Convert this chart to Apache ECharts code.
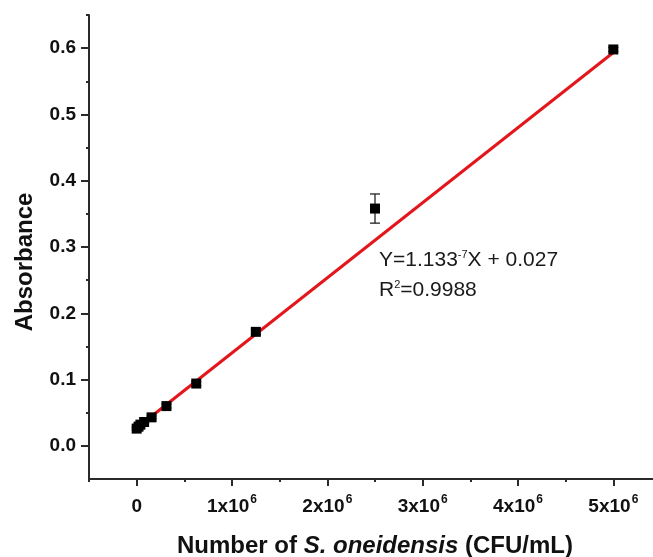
<!DOCTYPE html>
<html>
<head>
<meta charset="utf-8">
<script src="https://cdn.jsdelivr.net/npm/echarts@6/dist/echarts.min.js"></script>
<style>
  html, body { margin: 0; padding: 0; background: #fff; }
  #chart { width: 653px; height: 557px; }
</style>
</head>
<body>
<div id="chart"></div>
<script>
// Cell count (CFU/mL) of the two-fold dilution series
const cellCounts = [0, 19531, 39063, 78125, 156250, 312500, 625000, 1250000, 2500000, 5000000];
// Mean absorbance at each count
const absorbance = [0.026, 0.029, 0.032, 0.036, 0.043, 0.060, 0.094, 0.172, 0.358, 0.598];
// Standard deviation of absorbance
const absorbanceSd = [0.002, 0.002, 0.002, 0.002, 0.002, 0.003, 0.003, 0.004, 0.022, 0.003];

// Linear fit reported on the plot
const fitSlope = 1.133e-7;
const fitIntercept = 0.027;
const fitR2 = 0.9988;

// Axis ticks
const xMajorTicks = [0, 1000000, 2000000, 3000000, 4000000, 5000000];
const xMinorTicks = [-500000, 500000, 1500000, 2500000, 3500000, 4500000, 5500000];
const yMajorTicks = [0, 0.1, 0.2, 0.3, 0.4, 0.5, 0.6];
const yMinorTicks = [0.05, 0.15, 0.25, 0.35, 0.45, 0.55, 0.65];

const FONT = '"Liberation Sans", Arial, Helvetica, sans-serif';
const AXIS_COLOR = '#2a2a2a';

const points = cellCounts.map((x, i) => [x, absorbance[i]]);
const errorData = cellCounts.map((x, i) => [x, absorbance[i] - absorbanceSd[i], absorbance[i] + absorbanceSd[i]]);
const fitX = [cellCounts[0], cellCounts[cellCounts.length - 1]];
const fitLine = fitX.map(x => [x, fitSlope * x + fitIntercept]);

const chart = echarts.init(document.getElementById('chart'), null, { renderer: 'canvas' });

const xLabelFmt = v => {
  if (v === 0) return '{n|0}';
  return '{n|' + Math.round(v / 1e6) + 'x10}{s|6}';
};

const baseX = {
  type: 'value',
  min: -500000,
  max: 5500000,
  splitLine: { show: false }
};
const baseY = {
  type: 'value',
  min: -0.05,
  max: 0.65,
  splitLine: { show: false }
};

const option = {
  backgroundColor: '#ffffff',
  animation: false,
  grid: { left: 89, right: -8, top: 15, bottom: 78, containLabel: false, outerBoundsMode: 'none' },
  xAxis: [
    Object.assign({}, baseX, {
      position: 'bottom',
      axisLine: { show: true, onZero: false, lineStyle: { color: AXIS_COLOR, width: 2 } },
      axisTick: { show: true, inside: false, length: 7, customValues: xMajorTicks, lineStyle: { color: AXIS_COLOR, width: 2 } },
      axisLabel: {
        show: true,
        customValues: xMajorTicks,
        margin: 13,
        formatter: xLabelFmt,
        rich: {
          n: { fontFamily: FONT, fontWeight: 'bold', fontSize: 19, color: '#111', lineHeight: 24, verticalAlign: 'bottom' },
          s: { fontFamily: FONT, fontWeight: 'bold', fontSize: 12, color: '#111', lineHeight: 12, verticalAlign: 'top', padding: [2, 0, 0, 1] }
        }
      },
      name: '{b|Number of }{i|S. oneidensis}{b| (CFU/mL)}',
      nameLocation: 'middle',
      nameGap: 55,
      nameTextStyle: {
        rich: {
          b: { fontFamily: FONT, fontWeight: 'bold', fontSize: 24, color: '#111' },
          i: { fontFamily: FONT, fontWeight: 'bold', fontStyle: 'italic', fontSize: 24, color: '#111' }
        }
      }
    }),
    Object.assign({}, baseX, {
      position: 'bottom',
      axisLine: { show: false, onZero: false },
      axisTick: { show: true, length: 3, customValues: xMinorTicks, lineStyle: { color: AXIS_COLOR, width: 2 } },
      axisLabel: { show: false }
    })
  ],
  yAxis: [
    Object.assign({}, baseY, {
      position: 'left',
      axisLine: { show: true, onZero: false, lineStyle: { color: AXIS_COLOR, width: 2 } },
      axisTick: { show: true, inside: false, length: 8, customValues: yMajorTicks, lineStyle: { color: AXIS_COLOR, width: 2 } },
      axisLabel: {
        show: true,
        customValues: yMajorTicks,
        margin: 13,
        fontFamily: FONT,
        fontWeight: 'bold',
        fontSize: 19,
        color: '#111',
        formatter: v => v.toFixed(1)
      }
    }),
    Object.assign({}, baseY, {
      position: 'left',
      axisLine: { show: false, onZero: false },
      axisTick: { show: true, length: 3, customValues: yMinorTicks, lineStyle: { color: AXIS_COLOR, width: 2 } },
      axisLabel: { show: false }
    })
  ],
  graphic: [
    {
      type: 'text',
      x: 25,
      y: 262,
      rotation: Math.PI / 2,
      style: {
        text: 'Absorbance',
        fontFamily: FONT,
        fontWeight: 'bold',
        fontSize: 24,
        fill: '#111',
        align: 'center',
        verticalAlign: 'middle'
      }
    },
    {
      type: 'text',
      left: 379,
      top: 241,
      style: {
        text: '{t|Y=1.133}{s|-7}{t|X + 0.027}\n{t|R}{s|2}{t|=' + fitR2 + '}',
        fontFamily: FONT,
        rich: {
          t: { fontFamily: FONT, fontSize: 21, fill: '#1a1a1a', lineHeight: 30, verticalAlign: 'bottom' },
          s: { fontFamily: FONT, fontSize: 11, fill: '#1a1a1a', lineHeight: 11, verticalAlign: 'top', padding: [8, 0, 0, 0] }
        }
      }
    }
  ],
  series: [
    {
      name: 'fit',
      type: 'line',
      xAxisIndex: 0,
      yAxisIndex: 0,
      data: fitLine,
      showSymbol: false,
      symbol: 'none',
      lineStyle: { color: '#e3161c', width: 3 },
      z: 3
    },
    {
      name: 'error',
      type: 'custom',
      xAxisIndex: 0,
      yAxisIndex: 0,
      data: errorData,
      renderItem: (params, api) => {
        const x = api.value(0);
        const lo = api.coord([x, api.value(1)]);
        const hi = api.coord([x, api.value(2)]);
        const cap = 5;
        const style = { stroke: '#222', lineWidth: 1.3 };
        return {
          type: 'group',
          children: [
            { type: 'line', shape: { x1: lo[0], y1: lo[1], x2: hi[0], y2: hi[1] }, style },
            { type: 'line', shape: { x1: lo[0] - cap, y1: lo[1], x2: lo[0] + cap, y2: lo[1] }, style },
            { type: 'line', shape: { x1: hi[0] - cap, y1: hi[1], x2: hi[0] + cap, y2: hi[1] }, style }
          ]
        };
      },
      z: 2
    },
    {
      name: 'absorbance',
      type: 'scatter',
      xAxisIndex: 0,
      yAxisIndex: 0,
      data: points,
      symbol: 'rect',
      symbolSize: 10,
      itemStyle: { color: '#000', opacity: 1 },
      z: 4
    }
  ]
};

chart.setOption(option);
</script>
</body>
</html>
